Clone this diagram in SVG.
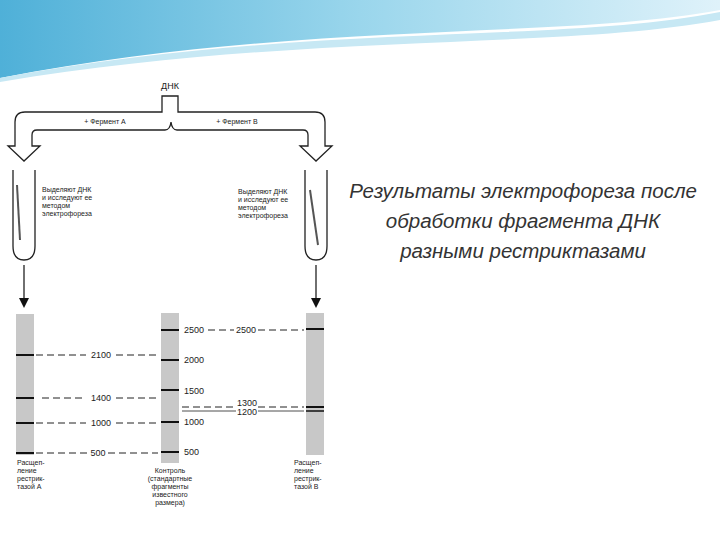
<svg xmlns="http://www.w3.org/2000/svg" width="720" height="540" viewBox="0 0 720 540">
<defs>
<linearGradient id="bl" x1="0" y1="0" x2="1" y2="0"><stop offset="0" stop-color="#4fb0d8"/><stop offset="0.5" stop-color="#9ad6ec"/><stop offset="1" stop-color="#dff2fa"/></linearGradient>
<style>
.t{font-family:"Liberation Sans",Arial,sans-serif;font-size:7px;fill:#222}
.n{font-family:"Liberation Sans",Arial,sans-serif;font-size:9px;fill:#222}
.ln{stroke:#222;stroke-width:1.3;fill:none}
.d{stroke:#222;stroke-width:1;stroke-dasharray:7,4;fill:none}
.lane{fill:#c8c8c8}
.b{stroke:#111;stroke-width:2}
</style>
</defs>
<rect width="720" height="540" fill="#fff"/>
<g id="banner">
<path d="M0,0 H720 V10 C560,40 300,20 0,78 Z" fill="url(#bl)"/>
<path d="M0,78 C300,22 560,44 720,12 V20 C560,50 300,32 0,82 Z" fill="#c7e8f4"/>
</g>
<g id="title">
<text font-family="'Liberation Sans',Arial,sans-serif" font-style="italic" font-size="20.5" fill="#333" text-anchor="middle"><tspan x="523" y="198">Результаты электрофореза после</tspan><tspan x="523" y="228">обработки фрагмента ДНК</tspan><tspan x="523" y="258">разными рестриктазами</tspan></text>
</g>
<g id="dna">
<text class="n" x="170" y="89" text-anchor="middle">ДНК</text>
<path class="ln" d="M162,96 V112 H25 Q15,112 15,122 V146 H8 L24,161 L40,146 H32 V135 Q32,130 37,130 H165 Q170,130 171,122 Q172,130 177,130 H303 Q308,130 308,135 V146 H300 L316,161 L332,146 H325 V122 Q325,112 315,112 H178 V96 Z" fill="#fff"/>
<text class="t" x="105" y="124" text-anchor="middle">+ Фермент А</text>
<text class="t" x="237" y="124" text-anchor="middle">+ Фермент В</text>
</g>
<g id="tubeA">
<path class="ln" d="M13,170 V246 Q13,260 24,260 Q35,260 35,246 V170"/>
<path d="M17,185 L20,240" stroke="#555" stroke-width="2"/>
<text class="t" x="42" y="192">Выделяют ДНК</text><text class="t" x="42" y="200">и исследуют ее</text><text class="t" x="42" y="208">методом</text><text class="t" x="42" y="216">электрофореза</text>
<line class="ln" x1="24" y1="265" x2="24" y2="300"/>
<path d="M19,298 L29,298 L24,308 Z" fill="#111"/>
</g>
<g id="tubeB">
<path class="ln" d="M305,170 V246 Q305,260 316,260 Q327,260 327,246 V170"/>
<path d="M310,190 L318,245" stroke="#555" stroke-width="2"/>
<text class="t" x="238" y="194">Выделяют ДНК</text><text class="t" x="238" y="202">и исследуют ее</text><text class="t" x="238" y="210">методом</text><text class="t" x="238" y="218">электрофореза</text>
<line class="ln" x1="316" y1="265" x2="316" y2="300"/>
<path d="M311,298 L321,298 L316,308 Z" fill="#111"/>
</g>
<g id="laneA">
<rect class="lane" x="16" y="314" width="18" height="141"/>
<line class="b" x1="16" y1="355" x2="34" y2="355"/><line class="b" x1="16" y1="398" x2="34" y2="398"/><line class="b" x1="16" y1="423" x2="34" y2="423"/><line class="b" x1="16" y1="453" x2="34" y2="453"/>
<text class="t" x="17" y="465">Расщеп-</text><text class="t" x="17" y="473">ление</text><text class="t" x="17" y="481">рестрик-</text><text class="t" x="17" y="489">тазой А</text>
</g>
<g id="laneC">
<rect class="lane" x="161" y="313" width="18" height="150"/>
<line class="b" x1="161" y1="330" x2="179" y2="330"/><line class="b" x1="161" y1="360" x2="179" y2="360"/><line class="b" x1="161" y1="390" x2="179" y2="390"/><line class="b" x1="161" y1="422" x2="179" y2="422"/><line class="b" x1="161" y1="452" x2="179" y2="452"/>
<text class="n" x="184" y="333">2500</text><text class="n" x="184" y="363">2000</text><text class="n" x="184" y="394">1500</text><text class="n" x="184" y="425">1000</text><text class="n" x="184" y="455">500</text>
<g text-anchor="middle"><text class="t" x="170" y="473">Контроль</text><text class="t" x="170" y="481">(стандартные</text><text class="t" x="170" y="489">фрагменты</text><text class="t" x="170" y="497">известного</text><text class="t" x="170" y="505">размера)</text></g>
</g>
<g id="laneB">
<rect class="lane" x="306" y="313" width="18" height="142"/>
<line class="b" x1="306" y1="329" x2="324" y2="329"/><line class="b" x1="306" y1="407" x2="324" y2="407"/><line stroke="#111" stroke-width="1.5" x1="306" y1="411" x2="324" y2="411"/>
<text class="t" x="294" y="465">Расщеп-</text><text class="t" x="294" y="473">ление</text><text class="t" x="294" y="481">рестрик-</text><text class="t" x="294" y="489">тазой В</text>
</g>
<g id="connectors">
<line class="d" x1="36" y1="355" x2="86" y2="355"/><line class="d" x1="116" y1="355" x2="158" y2="355"/>
<line class="d" x1="42" y1="398" x2="86" y2="398"/><line class="d" x1="116" y1="398" x2="156" y2="398"/>
<line class="d" x1="36" y1="423" x2="86" y2="423"/><line class="d" x1="116" y1="423" x2="158" y2="423"/>
<line class="d" x1="36" y1="453" x2="88" y2="453"/><line class="d" x1="108" y1="453" x2="158" y2="453"/>
<line class="d" x1="208" y1="330" x2="234" y2="330"/><line class="d" x1="258" y1="330" x2="304" y2="330"/>
<line class="d" x1="182" y1="407" x2="236" y2="407"/><line class="d" x1="258" y1="407" x2="304" y2="407"/>
<line stroke="#222" stroke-width="0.8" x1="182" y1="411" x2="236" y2="411"/><line stroke="#222" stroke-width="0.8" x1="258" y1="411" x2="304" y2="411"/>
<text class="n" x="101" y="358" text-anchor="middle">2100</text>
<text class="n" x="101" y="401" text-anchor="middle">1400</text>
<text class="n" x="101" y="426" text-anchor="middle">1000</text>
<text class="n" x="98" y="456" text-anchor="middle">500</text>
<text class="n" x="246" y="333" text-anchor="middle">2500</text>
<text class="n" x="247" y="406" text-anchor="middle">1300</text>
<text class="n" x="247" y="415" text-anchor="middle">1200</text>
</g>
</svg>
